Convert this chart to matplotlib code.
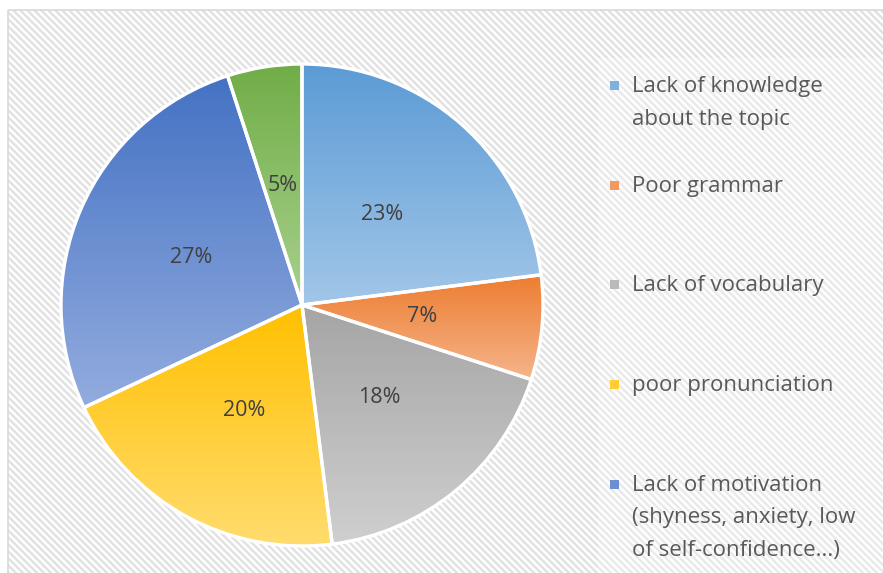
import matplotlib.pyplot as plt
import numpy as np
from matplotlib.colors import LinearSegmentedColormap, to_rgb
from matplotlib.patches import Rectangle
from matplotlib.collections import LineCollection

# the legend only has room for the first five categories
labels = [
    "Lack of knowledge\nabout the topic",
    "Poor grammar",
    "Lack of vocabulary",
    "poor pronunciation",
    "Lack of motivation\n(shyness, anxiety, low\nof self-confidence...)",
]
shares = [23, 7, 18, 20, 27, 5]
top_colors = ["#5B9BD5", "#ED7D31", "#A5A5A5", "#FFC000", "#4472C4", "#70AD47"]
bottom_colors = ["#A2C6E8", "#F5B48A", "#CFCFCF", "#FFDC6E", "#93ACDE", "#A9D18E"]

W, H = 883, 573
plt.rcParams['font.family'] = ['Open Sans', 'DejaVu Sans']

fig = plt.figure(figsize=(W / 100, H / 100), dpi=100)

# background layer in pixel coordinates (y downwards)
bg = fig.add_axes([0, 0, 1, 1], zorder=-5)
bg.set_xlim(0, W)
bg.set_ylim(H, 0)
bg.axis("off")
area = Rectangle((8, 10), W + 20, H + 20, facecolor="white", edgecolor="none")
bg.add_patch(area)
step = 7.0
segs = [[(c, 0), (c + H + 40, H + 40)] for c in np.arange(-H - 40, W + 20, step)]
lc = LineCollection(segs, colors="#E2E2E2", linewidths=1.8, zorder=2)
bg.add_collection(lc)
lc.set_clip_path(area)
# legend box is a touch lighter
bg.add_patch(Rectangle((598, 58), W, H, facecolor="white", alpha=0.3,
                       edgecolor="none", zorder=3))
bg.add_patch(Rectangle((8, 10), W + 20, H + 20, facecolor="none",
                       edgecolor="#D9D9D9", lw=1.2, zorder=3))

cx, cy, R = 302, 305, 241
half = 250
ax = fig.add_axes([(cx - half) / W, (H - cy - half) / H, 2 * half / W, 2 * half / H])

wedges, texts, autotexts = ax.pie(
    shares, startangle=90, counterclock=False, radius=1,
    autopct='%1.0f%%', pctdistance=0.5,
    wedgeprops=dict(edgecolor="white", linewidth=2.4),
    textprops=dict(color="#404040", fontsize=15.5),
)

grad = np.linspace(0, 1, 256).reshape(-1, 1)
for w, c_top, c_bot in zip(wedges, top_colors, bottom_colors):
    t = np.radians(np.linspace(w.theta1, w.theta2, 200))
    xs = np.concatenate([[0], np.cos(t)])
    ys = np.concatenate([[0], np.sin(t)])
    cmap = LinearSegmentedColormap.from_list("g", [to_rgb(c_top), to_rgb(c_bot)])
    im = ax.imshow(grad, cmap=cmap, aspect="auto", origin="upper",
                   extent=[xs.min(), xs.max(), ys.min(), ys.max()], zorder=1)
    im.set_clip_path(w)
    w.set_facecolor("none")
    w.set_zorder(2)
for t in autotexts:
    t.set_zorder(3)

lim = half / R
ax.set_xlim(-lim, lim)
ax.set_ylim(-lim, lim)
ax.axis("off")

# legend entries down the right side, one line at a time
for i, (lab, c_top, c_bot) in enumerate(zip(labels, top_colors, bottom_colors)):
    base = 92 + i * 99.7
    mid = tuple((np.array(to_rgb(c_top)) + np.array(to_rgb(c_bot))) / 2)
    bg.add_patch(Rectangle((610, base - 11), 9, 9, facecolor=mid, lw=0, zorder=4))
    for j, line in enumerate(lab.split("\n")):
        bg.text(632, base + j * 32.5, line, va="baseline", ha="left",
                fontsize=16, color="#595959", zorder=5)

fig.savefig("out.png", dpi=100)
